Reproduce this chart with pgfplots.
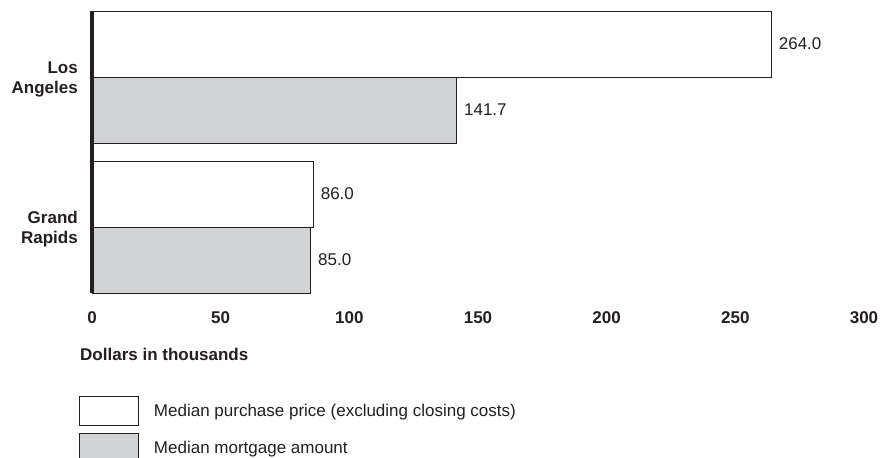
\documentclass[border=0pt]{standalone}
\usepackage{pgfplots}
\pgfplotsset{compat=1.18}
\usepackage{fontspec}
\setmainfont{Liberation Sans}
\definecolor{ink}{RGB}{35,31,32}
\definecolor{mortgage}{RGB}{209,211,212}
\newcommand{\chartfont}{\fontsize{17}{20}\selectfont}

\begin{document}
\begin{tikzpicture}[x=1pt,y=1pt]
\useasboundingbox (0,0) rectangle (887,-458);
\begin{axis}[
  at={(92pt,-293pt)}, anchor=south west,
  scale only axis, width=772pt, height=282pt,
  axis on top,
  xbar, bar width=0.44,
  xmin=0, xmax=300, ymin=-0.44, ymax=1.44,
  /pgf/number format/assume math mode=true,
  axis y line*=left, axis x line*=bottom,
  x axis line style={draw=none},
  y axis line style={-, line width=4pt, draw=ink},
  xtick={0,50,...,300}, ytick={0,1},
  yticklabels={Grand\\Rapids, Los\\Angeles},
  major tick length=0pt, tick style={draw=none},
  xticklabel style={font=\chartfont\bfseries, text=ink, anchor=north, inner sep=0pt, yshift=-18pt},
  yticklabel style={font=\chartfont\bfseries, text=ink, anchor=east, align=right, inner sep=0pt, xshift=-14pt, yshift=-2pt},
  xlabel={Dollars in thousands},
  xlabel style={font=\chartfont\bfseries, text=ink, at={(axis description cs:-0.01554,-0.2163)}, anchor=west, inner sep=0pt},
  point meta=x,
  nodes near coords={\pgfmathprintnumber[fixed,fixed zerofill,precision=1]{\pgfplotspointmeta}},
  nodes near coords style={font=\chartfont, text=ink, anchor=west, inner sep=0pt, xshift=7pt},
  legend cell align=left,
  legend style={at={(axis description cs:-0.01684,-0.3652)}, anchor=north west,
    draw=none, fill=none, inner sep=0pt, outer sep=0pt, row sep=7pt,
    font=\chartfont, text=ink, nodes={inner sep=0pt}},
  legend image code/.code={
    \draw[#1, line width=1pt] (0pt,-14.5pt) rectangle (59pt,14.5pt);
    \path (74pt,0pt);
  },
]
% median purchase price, drawn in the upper slot of each city
\addplot[fill=white, draw=ink, line width=1pt, bar shift=0.22]
  coordinates {(264.0,1) (86.0,0)};
% median mortgage amount, lower slot
\addplot[fill=mortgage, draw=ink, line width=1pt, bar shift=-0.22]
  coordinates {(141.7,1) (85.0,0)};
\legend{Median purchase price (excluding closing costs), Median mortgage amount}
\end{axis}
\end{tikzpicture}
\end{document}
